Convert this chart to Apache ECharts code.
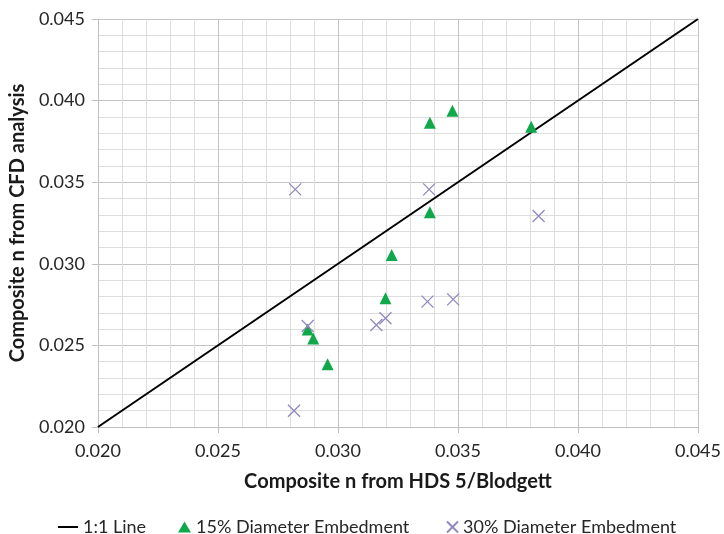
<!DOCTYPE html>
<html><head><meta charset="utf-8">
<script src="https://cdn.jsdelivr.net/npm/echarts@6/dist/echarts.min.js"></script>
<style>html,body{margin:0;padding:0;background:#fff}#c{width:724px;height:534px}</style>
</head><body><div id="c"></div>
<script>
const lineX = [0.020, 0.045];
const lineY = [0.020, 0.045];
const emb15X = [0.03383, 0.03477, 0.03383, 0.03224, 0.03805, 0.03198, 0.02874, 0.02897, 0.02957];
const emb15Y = [0.03865, 0.03938, 0.03316, 0.03054, 0.03840, 0.02789, 0.02598, 0.02543, 0.02384];
const emb30X = [0.02822, 0.03380, 0.03836, 0.02874, 0.03160, 0.03198, 0.03373, 0.03480, 0.02817];
const emb30Y = [0.03456, 0.03456, 0.03293, 0.02619, 0.02625, 0.02666, 0.02768, 0.02782, 0.02100];
const seriesNames = ['1:1 Line', '15% Diameter Embedment', '30% Diameter Embedment'];

const FONT = 'Lato';
const crossPath = 'path://M0,0L10,10M10,0L0,10';
const zip = (a, b) => a.map((v, i) => [v, b[i]]);
const legendText = { fontFamily: FONT, fontSize: 18, color: '#262626' };
const axisCommon = {
  type: 'value', min: 0.020, max: 0.045, interval: 0.005,
  axisLine: { show: true, lineStyle: { color: '#bfbfbf', width: 1 } },
  axisTick: { show: true, length: 6, lineStyle: { color: '#bfbfbf' } },
  splitLine: { show: true, lineStyle: { color: '#c4c4c4', width: 1 } },
  minorTick: { show: false, splitNumber: 5 },
  minorSplitLine: { show: true, lineStyle: { color: '#dedede', width: 1 } },
  axisLabel: { formatter: v => v.toFixed(3), color: '#262626', fontFamily: FONT, fontSize: 18 },
  nameLocation: 'middle',
  nameTextStyle: { fontFamily: FONT, fontSize: 20, fontWeight: 'bold', color: '#1a1a1a' }
};
const chart = echarts.init(document.getElementById('c'));
chart.setOption({
  animation: false,
  backgroundColor: '#fff',
  grid: { left: 96, right: 24, top: 19, bottom: 107, containLabel: false },
  xAxis: Object.assign({}, axisCommon, {
    name: 'Composite n from HDS 5/Blodgett', nameGap: 45,
    axisLabel: Object.assign({}, axisCommon.axisLabel, { margin: 15 })
  }),
  yAxis: Object.assign({}, axisCommon, {
    name: 'Composite n from CFD analysis', nameGap: 68,
    axisLabel: Object.assign({}, axisCommon.axisLabel, { margin: 13 })
  }),
  legend: [
    { data: [seriesNames[0]], left: 53, top: 513, icon: 'rect', itemWidth: 20, itemHeight: 2,
      textStyle: legendText },
    { data: [seriesNames[1]], left: 173, top: 513, itemWidth: 13, itemHeight: 11,
      textStyle: legendText },
    { data: [seriesNames[2]], left: 441, top: 513, itemWidth: 11, itemHeight: 11,
      textStyle: legendText }
  ],
  series: [
    { name: seriesNames[0], type: 'line', data: zip(lineX, lineY), showSymbol: false, symbol: 'none',
      lineStyle: { color: '#000', width: 2 }, itemStyle: { color: '#000' }, z: 2 },
    { name: seriesNames[1], type: 'scatter', data: zip(emb15X, emb15Y), symbol: 'triangle', symbolSize: 12,
      itemStyle: { color: '#10a84a', opacity: 1 }, z: 3 },
    { name: seriesNames[2], type: 'scatter', data: zip(emb30X, emb30Y), symbol: crossPath, symbolSize: 12,
      itemStyle: { color: 'transparent', borderColor: '#8f89bb', borderWidth: 1.3, opacity: 1 }, z: 4 }
  ]
});
</script></body></html>
